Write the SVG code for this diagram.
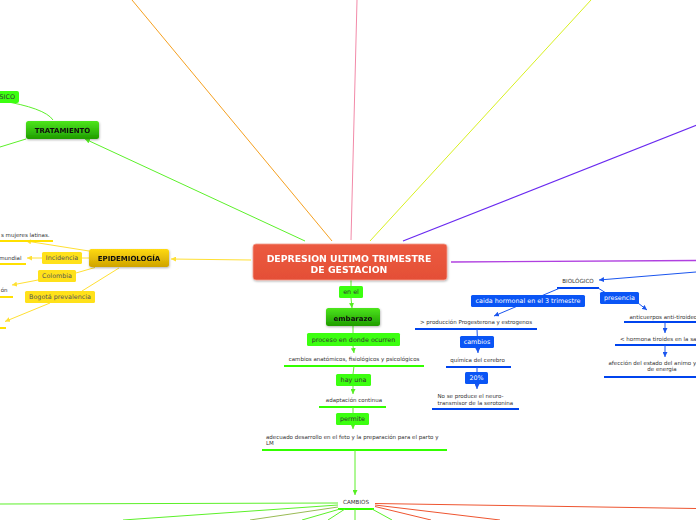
<svg xmlns="http://www.w3.org/2000/svg" width="696" height="520" viewBox="0 0 696 520">
<defs>
<linearGradient id="gGreen" x1="0" y1="0" x2="0" y2="1"><stop offset="0" stop-color="#4de61c"/><stop offset="1" stop-color="#1f9c00"/></linearGradient>
<linearGradient id="gGold" x1="0" y1="0" x2="0" y2="1"><stop offset="0" stop-color="#ffda12"/><stop offset="1" stop-color="#cfa300"/></linearGradient>
<linearGradient id="gRed" x1="0" y1="0" x2="0" y2="1"><stop offset="0" stop-color="#ec5a40"/><stop offset="1" stop-color="#e44f36"/></linearGradient>
<filter id="sh" x="-10%" y="-20%" width="120%" height="150%"><feDropShadow dx="0.5" dy="1" stdDeviation="0.8" flood-color="#000" flood-opacity="0.3"/></filter>
<marker id="aG" viewBox="0 0 6 6" refX="6" refY="3" markerWidth="5" markerHeight="5" orient="auto" markerUnits="userSpaceOnUse"><path d="M0,0 L6,3 L0,6 z" fill="#55ee22"/></marker>
<marker id="aY" viewBox="0 0 6 6" refX="6" refY="3" markerWidth="5" markerHeight="5" orient="auto" markerUnits="userSpaceOnUse"><path d="M0,0 L6,3 L0,6 z" fill="#ffe033"/></marker>
<marker id="aB" viewBox="0 0 6 6" refX="6" refY="3" markerWidth="5" markerHeight="5" orient="auto" markerUnits="userSpaceOnUse"><path d="M0,0 L6,3 L0,6 z" fill="#1a55ee"/></marker>
</defs>
<style>
text{font-family:"DejaVu Sans",Verdana,sans-serif}
.s{font-size:5.5px;fill:#333}
.c{font-size:5.6px;fill:#333}
.b{font-size:6.4px;fill:#333}
.w{font-size:6.4px;fill:#fff}
.h{font-size:7px;font-weight:bold;fill:#111}
.m{text-anchor:middle}
.g{stroke:#5cf02a;stroke-width:1;fill:none}
.y{stroke:#ffe033;stroke-width:1;fill:none}
.bl{stroke:#1a55ee;stroke-width:1;fill:none}
.r{stroke:#ee5530;stroke-width:1;fill:none}
.ug{stroke:#33ff00;stroke-width:2}
.uy{stroke:#ffe000;stroke-width:2}
.ub{stroke:#0044ee;stroke-width:2}
.bg{fill:#3cff10}
.by{fill:#ffe11a}
.bb{fill:#0a55f5}
</style>
<g id="connectors">
<line x1="332" y1="241" x2="132" y2="0" stroke="#f5a020" stroke-width="1"/>
<line x1="351" y1="240" x2="357" y2="0" stroke="#f28aa8" stroke-width="1"/>
<line x1="370" y1="241" x2="591" y2="0" stroke="#d8f020" stroke-width="1"/>
<line x1="403" y1="241" x2="697" y2="125" stroke="#6a2af0" stroke-width="1.2"/>
<line x1="305" y1="241" x2="85" y2="139" class="g" marker-end="url(#aG)"/>
<path d="M53,120 Q45,108 0,100.5" class="g"/>
<line x1="26" y1="139" x2="0" y2="147" class="g"/>
<line x1="251" y1="260" x2="171" y2="259" class="y" marker-end="url(#aY)"/>
<line x1="89" y1="251" x2="26" y2="241" class="y" marker-end="url(#aY)"/>
<line x1="0" y1="241" x2="53" y2="241" class="uy"/>
<line x1="89" y1="258" x2="82" y2="258" class="y"/>
<line x1="42" y1="258" x2="27" y2="258" class="y" marker-end="url(#aY)"/>
<line x1="0" y1="264" x2="26" y2="264" class="uy"/>
<line x1="95" y1="267.5" x2="76" y2="273" class="y"/>
<line x1="38" y1="280" x2="12" y2="285" class="y" marker-end="url(#aY)"/>
<line x1="0" y1="297" x2="13" y2="297" class="uy"/>
<line x1="119" y1="268" x2="82" y2="291" class="y"/>
<line x1="50" y1="303" x2="5" y2="321.5" class="y" marker-end="url(#aY)"/>
<line x1="0" y1="328" x2="6" y2="328" class="uy"/>
<line x1="351" y1="280" x2="351" y2="286" class="g"/>
<line x1="351" y1="298" x2="352" y2="308" class="g" marker-end="url(#aG)"/>
<line x1="353" y1="326" x2="353" y2="333" class="g"/>
<line x1="353" y1="346" x2="354" y2="353" class="g" marker-end="url(#aG)"/>
<line x1="284" y1="366" x2="424" y2="366" class="ug"/>
<line x1="354" y1="366" x2="353" y2="374" class="g"/>
<line x1="353" y1="386" x2="353" y2="394" class="g" marker-end="url(#aG)"/>
<line x1="319" y1="407" x2="386" y2="407" class="ug"/>
<line x1="353" y1="407" x2="353" y2="413" class="g"/>
<line x1="353" y1="424" x2="353" y2="429" class="g" marker-end="url(#aG)"/>
<line x1="262" y1="450" x2="447" y2="450" class="ug"/>
<line x1="355" y1="450" x2="355" y2="495" class="g" marker-end="url(#aG)"/>
<line x1="338" y1="509" x2="374" y2="509" class="ug"/>
<line x1="338" y1="503" x2="0" y2="504" class="g"/>
<line x1="338" y1="505" x2="123" y2="520" class="g"/>
<line x1="338" y1="507" x2="250" y2="520" stroke="#99bb55" stroke-width="1"/>
<line x1="340" y1="509" x2="302" y2="520" class="g"/>
<line x1="345" y1="509" x2="328" y2="520" class="g"/>
<line x1="355" y1="509" x2="355" y2="520" class="g"/>
<line x1="372" y1="509" x2="392" y2="520" class="g"/>
<line x1="375" y1="503.5" x2="696" y2="508.5" class="r"/>
<line x1="375" y1="505" x2="500" y2="520" class="r"/>
<line x1="375" y1="506.5" x2="431" y2="520" class="r"/>
<line x1="451" y1="262" x2="696" y2="260.5" stroke="#b040e0" stroke-width="1.3"/>
<line x1="696" y1="272" x2="599" y2="280" class="bl" marker-end="url(#aB)"/>
<line x1="557" y1="288" x2="599" y2="288" class="ub"/>
<line x1="560" y1="288" x2="494" y2="316" class="bl" marker-end="url(#aB)"/>
<line x1="598" y1="288" x2="606" y2="293" class="bl"/>
<line x1="638" y1="303" x2="647" y2="310" class="bl" marker-end="url(#aB)"/>
<line x1="415" y1="329" x2="537" y2="329" class="ub"/>
<line x1="477" y1="329" x2="478" y2="353" class="bl" marker-end="url(#aB)"/>
<line x1="446" y1="367" x2="511" y2="367" class="ub"/>
<line x1="477" y1="367" x2="477" y2="389" class="bl" marker-end="url(#aB)"/>
<line x1="432" y1="409" x2="519" y2="409" class="ub"/>
<line x1="624" y1="322" x2="696" y2="322" class="ub"/>
<line x1="665" y1="322" x2="665" y2="333" class="bl" marker-end="url(#aB)"/>
<line x1="615" y1="345" x2="696" y2="345" class="ub"/>
<line x1="665" y1="345" x2="665" y2="357" class="bl" marker-end="url(#aB)"/>
<line x1="604" y1="377" x2="696" y2="377" class="ub"/>
</g>
<g id="root" filter="url(#sh)"><rect x="253" y="244" width="194" height="36" rx="3" fill="url(#gRed)" stroke="#f4a090" stroke-width="0.8"/>
<text x="349" y="261.5" class="m" style="font-size:9.3px;font-weight:bold;fill:#fff">DEPRESION ULTIMO TRIMESTRE</text>
<text x="349" y="272.5" class="m" style="font-size:9.3px;font-weight:bold;fill:#fff">DE GESTACION</text></g>
<g id="tratamiento" filter="url(#sh)"><rect x="26" y="121" width="73" height="18" rx="2.5" fill="url(#gGreen)"/><text x="62.5" y="132.5" class="h m">TRATAMIENTO</text></g>
<g id="sico"><rect x="-10" y="91" width="29" height="12" rx="2" class="bg"/><text x="15" y="99.3" class="b" text-anchor="end">SICO</text></g>
<g id="epidemiologia" filter="url(#sh)"><rect x="89" y="249" width="80" height="18" rx="2.5" fill="url(#gGold)"/><text x="129" y="261" class="h m">EPIDEMIOLOGÍA</text></g>
<g id="mujeres"><text x="1" y="237" class="s">s mujeres latinas.</text></g>
<g id="incidencia"><rect x="42" y="252" width="40" height="12" rx="1.5" class="by"/><text x="62" y="260.3" class="b m" style="fill:#555">Incidencia</text></g>
<g id="mundial"><text x="21.5" y="260" class="s" text-anchor="end">mundial</text></g>
<g id="colombia"><rect x="38" y="270" width="38" height="12" rx="1.5" class="by"/><text x="57" y="278.3" class="b m" style="fill:#555">Colombia</text></g>
<g id="on"><text x="7.5" y="292" class="s" text-anchor="end">ón</text></g>
<g id="bogota"><rect x="25" y="291" width="70" height="12" rx="1.5" class="by"/><text x="60" y="299.3" class="b m" style="fill:#555">Bogotá prevalencia</text></g>
<g id="enel"><rect x="339" y="286" width="24" height="12" rx="1.5" class="bg"/><text x="351" y="294.3" class="b m">en el</text></g>
<g id="embarazo" filter="url(#sh)"><rect x="326" y="308" width="54" height="18" rx="2.5" fill="url(#gGreen)"/><text x="353" y="320.5" class="h m">embarazo</text></g>
<g id="proceso"><rect x="307" y="333" width="93" height="13" rx="1.5" class="bg"/><text x="353.5" y="341.8" class="b m">proceso en donde ocurren</text></g>
<g id="cambiosanat"><text x="354" y="361" class="s m">cambios anatómicos, fisiológicos y psicológicos</text></g>
<g id="hayuna"><rect x="336" y="374" width="35" height="12" rx="1.5" class="bg"/><text x="353.5" y="382.3" class="b m">hay una</text></g>
<g id="adaptacion"><text x="354" y="402" class="s m">adaptación continua</text></g>
<g id="permite"><rect x="336" y="413" width="33" height="12" rx="1.5" class="bg"/><text x="352.5" y="421.3" class="b m">permite</text></g>
<g id="adecuado"><text x="266" y="438.5" class="s">adecuado desarrollo en el feto y la preparación para el parto y</text><text x="266" y="445" class="s">LM</text></g>
<g id="cambios"><text x="356" y="504.3" class="c m">CAMBIOS</text></g>
<g id="biologico"><text x="578" y="283" class="c m">BIOLÓGICO</text></g>
<g id="caida"><rect x="471" y="295" width="114" height="12" rx="1.5" class="bb"/><text x="528" y="303.3" class="w m">caida hormonal en el 3 trimestre</text></g>
<g id="produccion"><text x="476" y="324.3" class="s m">&gt; producción Progesterona y estrogenos</text></g>
<g id="cambiosb"><rect x="460" y="336" width="34" height="12" rx="1.5" class="bb"/><text x="477" y="344.3" class="w m">cambios</text></g>
<g id="quimica"><text x="477.5" y="362" class="s m">química del cerebro</text></g>
<g id="veinte"><rect x="465" y="372" width="23" height="12" rx="1.5" class="bb"/><text x="476.5" y="380.3" class="w m">20%</text></g>
<g id="noseproduce"><text x="437.5" y="398.3" class="s">No se produce el neuro-</text><text x="437.5" y="405.3" class="s">transmisor de la serotonina</text></g>
<g id="presencia"><rect x="600" y="292" width="39" height="12" rx="1.5" class="bb"/><text x="619.5" y="300.3" class="w m">presencia</text></g>
<g id="anticuerpos"><text x="629.5" y="318.7" class="s">anticuerpos anti-tiroideo</text></g>
<g id="hormona"><text x="620" y="341.3" class="s">&lt; hormona tiroides en la sa</text></g>
<g id="afeccion"><text x="608.5" y="364.7" class="s">afección del estado del animo y</text><text x="662" y="371.3" class="s m">de energia</text></g>
</svg>
